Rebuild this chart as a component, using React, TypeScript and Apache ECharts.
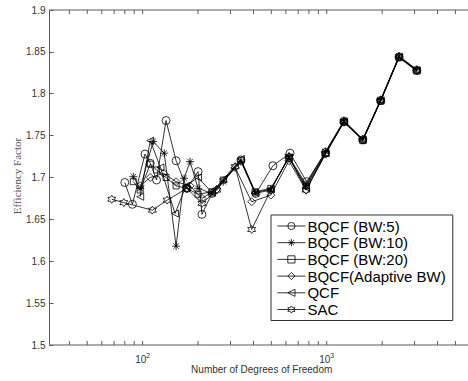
import React, { useEffect, useRef } from "react";
import * as echarts from "echarts";

// ---- data ----
const seriesNames = ["BQCF (BW:5)", "BQCF (BW:10)", "BQCF (BW:20)", "BQCF(Adaptive BW)", "QCF", "SAC"];

const bw5X = [80, 88, 103, 110, 119, 134, 152, 174, 200, 210, 238, 342, 412, 510, 632, 778, 985, 1240, 1570, 1963, 2470, 3085];
const bw5Y = [1.694, 1.668, 1.728, 1.717, 1.697, 1.768, 1.720, 1.687, 1.707, 1.656, 1.681, 1.721, 1.681, 1.714, 1.729, 1.695, 1.730, 1.767, 1.745, 1.792, 1.844, 1.828];

const bw10X = [89, 97, 114, 131, 152, 168, 181, 200, 238, 274, 342, 408, 497, 623, 772, 985, 1240, 1570, 1963, 2470, 3085];
const bw10Y = [1.701, 1.687, 1.743, 1.729, 1.618, 1.699, 1.719, 1.687, 1.681, 1.695, 1.719, 1.681, 1.685, 1.725, 1.692, 1.731, 1.768, 1.746, 1.793, 1.845, 1.829];

const bw20X = [89, 97, 110, 119, 134, 152, 174, 200, 238, 274, 342, 408, 497, 623, 772, 985, 1240, 1570, 1963, 2470, 3085];
const bw20Y = [1.695, 1.685, 1.716, 1.709, 1.700, 1.690, 1.687, 1.680, 1.683, 1.697, 1.720, 1.683, 1.687, 1.723, 1.690, 1.729, 1.766, 1.744, 1.791, 1.843, 1.827];

const adaptX = [97, 110, 130, 152, 181, 210, 253, 318, 391, 497, 623, 772, 985, 1240, 1570, 1963, 2470, 3085];
const adaptY = [1.690, 1.700, 1.705, 1.695, 1.690, 1.675, 1.686, 1.712, 1.671, 1.679, 1.720, 1.685, 1.728, 1.766, 1.745, 1.792, 1.844, 1.828];

const qcfX = [97, 110, 125, 150, 172, 200, 238, 274, 342, 408, 497, 623, 772, 985, 1240, 1570, 1963, 2470, 3085];
const qcfY = [1.677, 1.744, 1.712, 1.657, 1.690, 1.700, 1.682, 1.698, 1.722, 1.682, 1.686, 1.724, 1.688, 1.729, 1.767, 1.745, 1.792, 1.844, 1.828];

const sacX = [68, 79, 113, 136, 174, 210, 253, 318, 391, 497, 623, 772, 985, 1240, 1570, 1963, 2470, 3085];
const sacY = [1.674, 1.670, 1.661, 1.673, 1.687, 1.669, 1.685, 1.713, 1.638, 1.685, 1.725, 1.685, 1.728, 1.767, 1.745, 1.792, 1.844, 1.828];

const xTicks = [40, 50, 60, 70, 80, 90, 100, 200, 300, 400, 500, 600, 700, 800, 900, 1000, 2000, 3000, 4000, 5000];
const xMin = 31.2;
const xMax = 6000;
const yMin = 1.5;
const yMax = 1.9;
const yStep = 0.05;

// ---- symbols ----
const SYM_CIRCLE = "path://M1,0A1,1 0 1 1 -1,0A1,1 0 1 1 1,0Z";
const SYM_ASTER = "path://M0,-1L0,1M-1,0L1,0M-0.7,-0.7L0.7,0.7M-0.7,0.7L0.7,-0.7";
const SYM_SQUARE = "path://M-1,-1L1,-1L1,1L-1,1Z";
const SYM_DIAMOND = "path://M0,-1L0.7,0L0,1L-0.7,0Z";
const SYM_TRI = "path://M-1,0L1,-1L1,1Z";
const SYM_HEX = "path://M0,-1L0.289,-0.5L0.866,-0.5L0.577,0L0.866,0.5L0.289,0.5L0,1L-0.289,0.5L-0.866,0.5L-0.577,0L-0.866,-0.5L-0.289,-0.5Z";

function zip(xs: number[], ys: number[]) {
  return xs.map((x, i) => [x, ys[i]]);
}

export default function App() {
  const ref = useRef<HTMLDivElement>(null);
  useEffect(() => {
    if (!ref.current) return;
    const chart = echarts.init(ref.current, undefined, { renderer: "svg" });
    const axisColor = "#5a5a5a";
    const clear = "rgba(0,0,0,0)";
    const mk = (name: string, xs: number[], ys: number[], symbol: string, size: number) => ({
      name,
      type: "line",
      data: zip(xs, ys),
      symbol,
      symbolSize: size,
      showSymbol: true,
      lineStyle: { color: "#000", width: 0.8 },
      itemStyle: { color: clear, borderColor: "#000", borderWidth: 0.8 },
      emphasis: { disabled: true },
      z: 3,
    });
    chart.setOption({
      animation: false,
      backgroundColor: "#fff",
      grid: { left: 49.5, top: 10, right: 10, bottom: 36, show: true, borderColor: axisColor, borderWidth: 1, backgroundColor: "transparent" },
      xAxis: {
        type: "log",
        logBase: 10,
        min: xMin,
        max: xMax,
        axisLine: { show: false },
        axisTick: { show: false },
        splitLine: { show: false },
        axisLabel: {
          showMinLabel: false,
          showMaxLabel: false,
          margin: 7,
          color: "#333",
          fontFamily: "Liberation Sans, Arial, sans-serif",
          fontSize: 10,
          formatter: (v: number) => {
            const l = Math.log10(v);
            if (Math.abs(l - Math.round(l)) < 1e-6) return "10{s|" + Math.round(l) + "}";
            return "";
          },
          rich: {
            s: { fontSize: 7, padding: [0, 0, 7, 0], color: "#333", fontFamily: "Liberation Sans, Arial, sans-serif" },
          },
        },
      },
      yAxis: {
        type: "value",
        min: yMin,
        max: yMax,
        interval: yStep,
        axisLine: { show: false },
        axisTick: { show: true, inside: true, length: 4, lineStyle: { color: axisColor } },
        splitLine: { show: false },
        axisLabel: {
          margin: 4,
          color: "#333",
          fontFamily: "Liberation Sans, Arial, sans-serif",
          fontSize: 10,
          formatter: (v: number) => String(+v.toFixed(2)),
        },
      },
      legend: {
        data: seriesNames,
        orient: "vertical",
        left: 271,
        top: 215,
        padding: [3, 7, 3, 6],
        itemWidth: 28,
        itemHeight: 9,
        itemGap: 0.7,
        backgroundColor: "#fff",
        borderColor: "#333",
        borderWidth: 1,
        borderRadius: 0,
        itemStyle: { color: clear, borderColor: "#000", borderWidth: 0.8 },
        lineStyle: { color: "#000", width: 0.8 },
        textStyle: { color: "#000", fontSize: 15, lineHeight: 16, fontFamily: "Liberation Sans, Arial, sans-serif", padding: [0, 0, 0, -3] },
        selectedMode: false,
      },
      graphic: [
        {
          type: "text",
          x: 261.7,
          y: 369.5,
          style: {
            text: "Number of Degrees of Freedom",
            fill: "#333",
            fontSize: 10,
            fontFamily: "Liberation Sans, Arial, sans-serif",
            textAlign: "center",
            textVerticalAlign: "middle",
          },
        },
        {
          type: "text",
          x: 16.5,
          y: 176,
          rotation: Math.PI / 2,
          style: {
            text: "Efficiency Factor",
            fill: "#555",
            fontSize: 11,
            fontFamily: "Liberation Serif, Times New Roman, serif",
            textAlign: "center",
            textVerticalAlign: "middle",
          },
        },
      ],
      series: [
        mk(seriesNames[0], bw5X, bw5Y, SYM_CIRCLE, 8),
        mk(seriesNames[1], bw10X, bw10Y, SYM_ASTER, 8),
        mk(seriesNames[2], bw20X, bw20Y, SYM_SQUARE, 6),
        mk(seriesNames[3], adaptX, adaptY, SYM_DIAMOND, 8),
        mk(seriesNames[4], qcfX, qcfY, SYM_TRI, 7),
        mk(seriesNames[5], sacX, sacY, SYM_HEX, 8),
        {
          name: "ticks",
          type: "custom",
          data: xTicks.map((v) => [v, yMin]),
          encode: { x: 0, y: 1 },
          silent: true,
          clip: false,
          z: 1,
          renderItem: (params: any, api: any) => {
            const v = api.value(0);
            const b = api.coord([v, yMin]);
            const t = api.coord([v, yMax]);
            const st = { stroke: axisColor, lineWidth: 1 };
            return {
              type: "group",
              children: [
                { type: "line", shape: { x1: b[0], y1: b[1], x2: b[0], y2: b[1] - 4 }, style: st },
                { type: "line", shape: { x1: t[0], y1: t[1], x2: t[0], y2: t[1] + 4 }, style: st },
              ],
            };
          },
        },
      ],
    });
    return () => chart.dispose();
  }, []);
  return (
    <div style={{ position: "fixed", left: 0, top: 0, width: 468, height: 381, overflow: "hidden", background: "#fff" }}>
      <div ref={ref} style={{ width: 480, height: 381 }} />
    </div>
  );
}
